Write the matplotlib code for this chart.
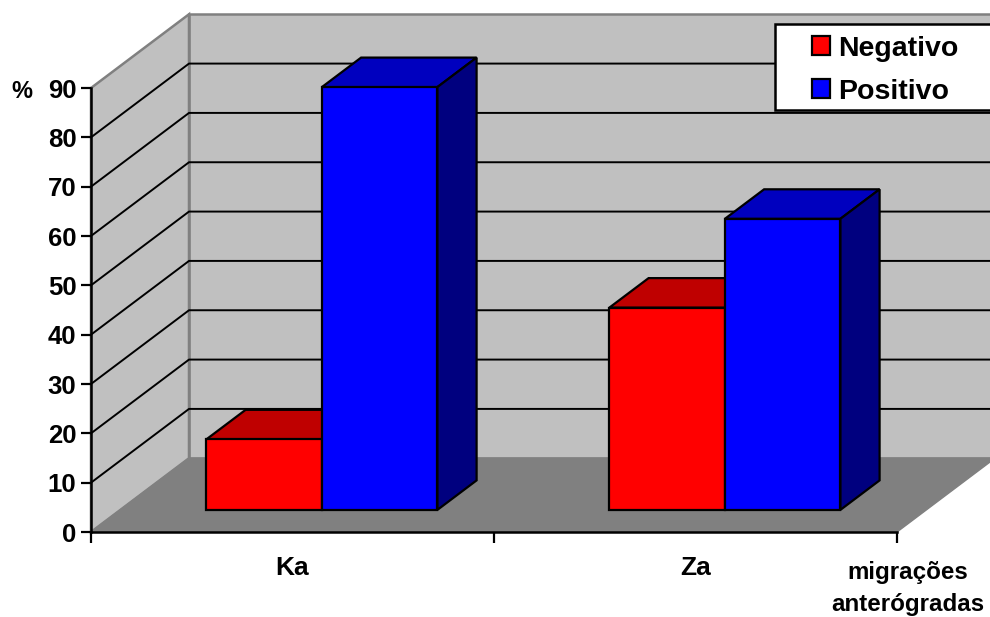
import matplotlib

matplotlib.use("Agg")
import matplotlib.pyplot as plt
from matplotlib.patches import Patch, Polygon, Rectangle


CATEGORIES = ["Ka", "Za"]
NEGATIVO = [14.3, 41.0]
POSITIVO = [85.7, 59.0]
Y_TICKS = [0, 10, 20, 30, 40, 50, 60, 70, 80, 90]

WALL = "#C0C0C0"
FLOOR = "#808080"
COLORS = {
    "Negativo": ("#FF0000", "#BF0000", "#7F0000"),
    "Positivo": ("#0000FF", "#0000BF", "#00007F"),
}

# offset of the back of the box, in data units
DEPTH_X = 98 / 403
DEPTH_Y = 14.95
BAR_WIDTH = 0.2866
BAR_FRONT, BAR_BACK = 0.3, 0.7

plt.rcParams["font.family"] = ["Liberation Sans", "DejaVu Sans"]
plt.rcParams["font.weight"] = "bold"


def proj(x, y, depth=0.0):
    return (x + depth * DEPTH_X, y + depth * DEPTH_Y)


def draw_walls(ax):
    ymax = Y_TICKS[-1]
    back = [proj(0, 0, 1), proj(2, 0, 1), proj(2, ymax, 1), proj(0, ymax, 1)]
    left = [proj(0, 0), proj(0, 0, 1), proj(0, ymax, 1), proj(0, ymax)]
    floor = [proj(0, 0), proj(2, 0), proj(2, 0, 1), proj(0, 0, 1)]
    ax.add_patch(Polygon(back, fc=WALL, ec=FLOOR, lw=1.8, clip_on=False, zorder=1))
    ax.add_patch(Polygon(left, fc=WALL, ec=FLOOR, lw=1.8, clip_on=False, zorder=1))
    for value in Y_TICKS[1:-1]:
        pts = [proj(0, value), proj(0, value, 1), proj(2, value, 1)]
        ax.plot(*zip(*pts), color="black", lw=1.4, clip_on=False, zorder=2)
    ax.add_patch(Polygon(floor, fc=FLOOR, ec=FLOOR, lw=1, clip_on=False, zorder=3))


def draw_bar(ax, x0, x1, value, colors, zorder):
    front, top, side = colors
    # the bar stands on the floor, so depth shifts its base as well
    faces = [
        ([(x0, value, BAR_FRONT), (x1, value, BAR_FRONT), (x1, value, BAR_BACK), (x0, value, BAR_BACK)], top),
        ([(x1, 0, BAR_FRONT), (x1, 0, BAR_BACK), (x1, value, BAR_BACK), (x1, value, BAR_FRONT)], side),
        ([(x0, 0, BAR_FRONT), (x1, 0, BAR_FRONT), (x1, value, BAR_FRONT), (x0, value, BAR_FRONT)], front),
    ]
    for corners, color in faces:
        pts = [proj(*c) for c in corners]
        ax.add_patch(Polygon(pts, fc=color, ec="black", lw=1.6, joinstyle="miter", clip_on=False, zorder=zorder))


def main():
    fig = plt.figure(figsize=(9.9, 6.17), dpi=100)
    ax = fig.add_axes([91 / 990, 85 / 617, 806 / 990, 444 / 617])
    ax.set_xlim(0, 2)
    ax.set_ylim(0, 90)
    ax.patch.set_visible(False)

    draw_walls(ax)
    for i, (neg, pos) in enumerate(zip(NEGATIVO, POSITIVO)):
        center = i + 0.5
        draw_bar(ax, center - BAR_WIDTH, center, neg, COLORS["Negativo"], 4)
        draw_bar(ax, center, center + BAR_WIDTH, pos, COLORS["Positivo"], 5)

    for side in ["top", "right"]:
        ax.spines[side].set_visible(False)
    for side in ["left", "bottom"]:
        ax.spines[side].set_linewidth(1.8)
        ax.spines[side].set_zorder(6)

    ax.set_yticks(Y_TICKS)
    ax.set_xticks([0, 1, 2])
    ax.set_xticklabels([])
    ax.set_xticks([0.5, 1.5], minor=True)
    ax.set_xticklabels(CATEGORIES, minor=True)
    ax.tick_params(axis="y", length=7.5, width=1.6, labelsize=18.5, pad=3)
    ax.tick_params(axis="x", which="major", length=8, width=1.6)
    ax.tick_params(axis="x", which="minor", length=0, labelsize=19, pad=17)

    fig.text(22 / 990, 1 - 92 / 617, "%", fontsize=17, ha="center", va="center")
    fig.text(908 / 990, 1 - 573 / 617, "migrações", fontsize=17.4, ha="center", va="center")
    fig.text(908 / 990, 1 - 605 / 617, "anterógradas", fontsize=17.4, ha="center", va="center")

    # legend box runs off the right edge
    fig.add_artist(Rectangle((775 / 990, 1 - 110 / 617), 230 / 990, 86 / 617, transform=fig.transFigure,
                             fc="white", ec="black", lw=1.8, zorder=7))
    handles = [Patch(fc=COLORS[name][0], ec="black", lw=1.6) for name in COLORS]
    leg = fig.legend(handles, list(COLORS), loc="upper left", bbox_to_anchor=(803 / 990, 1 - 27 / 617),
                     frameon=False, fontsize=20.5, handlelength=0.66, handleheight=0.66,
                     handletextpad=0.26, labelspacing=0.6, borderpad=0.3, borderaxespad=0)
    leg.set_zorder(8)

    fig.savefig("out.png", dpi=100)
    plt.close(fig)


if __name__ == "__main__":
    main()
